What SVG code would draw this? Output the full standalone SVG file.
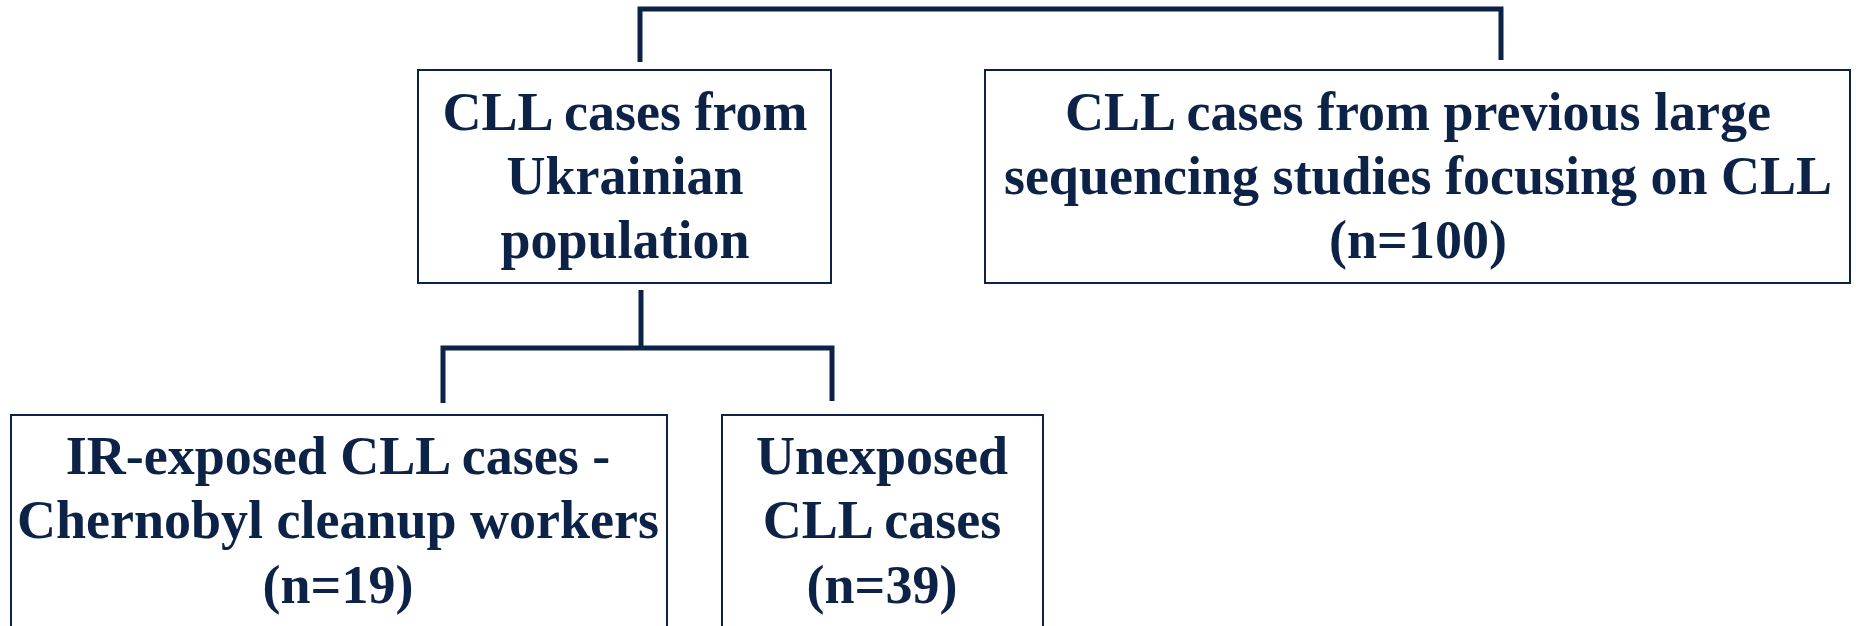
<svg xmlns="http://www.w3.org/2000/svg" width="1856" height="626" viewBox="0 0 1856 626">
<style>
.box{fill:#fff;stroke:#0c2246;stroke-width:2}
.con{fill:none;stroke:#0c2246;stroke-width:5}
text{font-family:"Liberation Serif","Times New Roman",serif;font-weight:bold;font-size:54px;fill:#0c2246;text-anchor:middle}
</style>
<rect width="1856" height="626" fill="#fff"/>
<g id="connectors">
<path class="con" d="M640,62 V9 H1501 V60"/>
<path class="con" d="M641,290 V348"/>
<path class="con" d="M443,403 V348 H832 V401"/>
</g>
<g id="node-ukraine">
<rect class="box" x="418" y="70" width="413" height="213"/>
<text x="625" y="130">CLL cases from</text>
<text x="625" y="194">Ukrainian</text>
<text x="625" y="258">population</text>
</g>
<g id="node-previous">
<rect class="box" x="985" y="70" width="865" height="213"/>
<text x="1418" y="130">CLL cases from previous large</text>
<text x="1418" y="194">sequencing studies focusing on CLL</text>
<text x="1418" y="258">(n=100)</text>
</g>
<g id="node-exposed">
<rect class="box" x="11" y="415" width="656" height="230"/>
<text x="338" y="474">IR-exposed CLL cases -</text>
<text x="338" y="538">Chernobyl cleanup workers</text>
<text x="338" y="603">(n=19)</text>
</g>
<g id="node-unexposed">
<rect class="box" x="722" y="415" width="321" height="230"/>
<text x="882" y="474">Unexposed</text>
<text x="882" y="538">CLL cases</text>
<text x="882" y="603">(n=39)</text>
</g>
</svg>
